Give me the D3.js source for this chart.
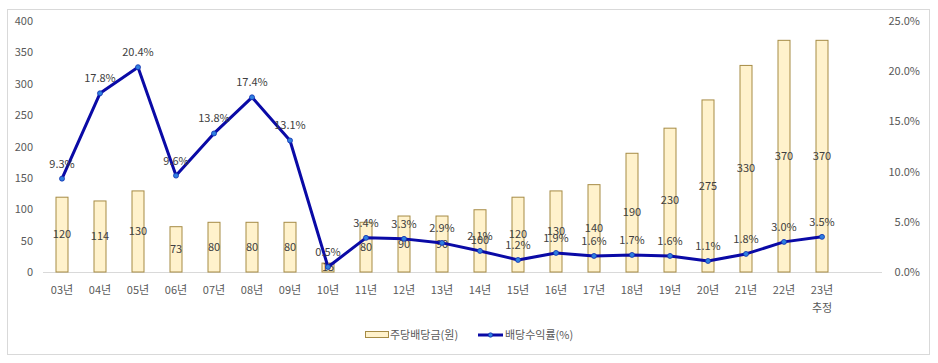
<!DOCTYPE html>
<html>
<head>
<meta charset="utf-8">
<script src="https://cdn.jsdelivr.net/npm/d3@7/dist/d3.min.js"></script>
<style>
  html, body { margin: 0; padding: 0; background: #fff; }
  svg { display: block; }
  text { font-family: "Noto Sans CJK KR", "Noto Sans", sans-serif; }
</style>
</head>
<body>
<svg id="chart" width="938" height="363"></svg>
<script>
const categories = ["03년","04년","05년","06년","07년","08년","09년","10년","11년","12년","13년","14년","15년","16년","17년","18년","19년","20년","21년","22년","23년"];
const subLabels = {"23년": "추정"};
const dividends = [120,114,130,73,80,80,80,15,80,90,90,100,120,130,140,190,230,275,330,370,370];
const yields = [9.3,17.8,20.4,9.6,13.8,17.4,13.1,0.5,3.4,3.3,2.9,2.1,1.2,1.9,1.6,1.7,1.6,1.1,1.8,3.0,3.5];
const leftTicks = [0,50,100,150,200,250,300,350,400];
const rightTicks = [0,5,10,15,20,25];
const seriesNames = ["주당배당금(원)", "배당수익률(%)"];

(function () {
const svg = d3.select("#chart");
const textColor = "#595959";
const labelColor = "#404040";
const barFill = "#FFF2CC";
const barStroke = "#A68B45";
const lineColor = "#0A0AA6";

svg.append("rect").attr("x", 7.5).attr("y", 9.5).attr("width", 922).attr("height", 345)
  .attr("fill", "#fff").attr("stroke", "#D9D9D9");

const plotLeft = 43, plotRight = 882, plotTop = 21, plotBottom = 272;
const bandW = 38;
const x = d3.scaleBand().domain(categories).range([plotLeft, plotLeft + bandW * categories.length]).paddingInner(0).paddingOuter(0);
const yL = d3.scaleLinear().domain([0, 400]).range([plotBottom, plotTop]);
const yR = d3.scaleLinear().domain([0, 25]).range([plotBottom, plotTop]);
const cx = (i) => x(categories[i]) + x.bandwidth() / 2;

svg.append("line").attr("x1", plotLeft).attr("x2", plotRight).attr("y1", yL(0) + 0.5).attr("y2", yL(0) + 0.5)
  .attr("stroke", "#D9D9D9");

const gL = svg.append("g").attr("transform", `translate(33,0)`)
  .call(d3.axisLeft(yL).tickValues(leftTicks).tickSize(0).tickPadding(0));
gL.select(".domain").remove();
gL.selectAll("text").attr("fill", textColor).style("font-size", "11px");

const gR = svg.append("g").attr("transform", `translate(920,0)`)
  .call(d3.axisLeft(yR).tickValues(rightTicks).tickSize(0).tickPadding(0).tickFormat(d => d.toFixed(1) + "%"));
gR.select(".domain").remove();
gR.selectAll("text").attr("fill", textColor).style("font-size", "11px");

const gX = svg.append("g").attr("transform", `translate(0,${plotBottom})`)
  .call(d3.axisBottom(x).tickSize(0).tickPadding(14));
gX.select(".domain").remove();
gX.selectAll("text").attr("fill", textColor).style("font-size", "11px");
gX.selectAll(".tick").each(function(d) {
  if (subLabels[d]) {
    d3.select(this).append("text").attr("y", 32).attr("dy", "0.71em")
      .attr("text-anchor", "middle").attr("fill", textColor).style("font-size", "11px").text(subLabels[d]);
  }
});

const barW = 13;
svg.append("g").selectAll("rect").data(dividends).join("rect")
  .attr("x", (d, i) => cx(i) - barW / 2 + 0.5)
  .attr("y", d => yL(d) + 0.5)
  .attr("width", barW - 1)
  .attr("height", d => yL(0) - yL(d) - 0.5)
  .attr("fill", barFill).attr("stroke", barStroke).attr("stroke-width", 1);

svg.append("g").selectAll("text").data(dividends).join("text")
  .attr("x", (d, i) => cx(i))
  .attr("y", d => (yL(d) + yL(0)) / 2)
  .attr("dy", "0.35em")
  .attr("text-anchor", "middle").attr("fill", labelColor).style("font-size", "11px")
  .text(d => d);

const line = d3.line().x((d, i) => cx(i)).y(d => yR(d));
svg.append("path").datum(yields).attr("d", line).attr("fill", "none")
  .attr("stroke", lineColor).attr("stroke-width", 3).attr("stroke-linejoin", "round");

svg.append("g").selectAll("circle").data(yields).join("circle")
  .attr("cx", (d, i) => cx(i))
  .attr("cy", d => yR(d)).attr("r", 2.5)
  .attr("fill", "#2F7FE0").attr("stroke", "#1030B0").attr("stroke-width", 0.8);

svg.append("g").selectAll("text").data(yields).join("text")
  .attr("x", (d, i) => cx(i))
  .attr("y", d => yR(d) - 11)
  .attr("text-anchor", "middle").attr("fill", labelColor).style("font-size", "11px")
  .text(d => d.toFixed(1) + "%");

const lg = svg.append("g");
lg.append("rect").attr("x", 365.5).attr("y", 331.5).attr("width", 23).attr("height", 6)
  .attr("fill", barFill).attr("stroke", barStroke);
lg.append("text").attr("x", 390).attr("y", 335).attr("dy", "0.35em").attr("fill", textColor)
  .style("font-size", "11px").text(seriesNames[0]);
lg.append("line").attr("x1", 478).attr("x2", 503).attr("y1", 335).attr("y2", 335)
  .attr("stroke", lineColor).attr("stroke-width", 3);
lg.append("circle").attr("cx", 490.5).attr("cy", 335).attr("r", 2.2)
  .attr("fill", "#2F7FE0").attr("stroke", "#1030B0").attr("stroke-width", 0.8);
lg.append("text").attr("x", 505).attr("y", 335).attr("dy", "0.35em").attr("fill", textColor)
  .style("font-size", "11px").text(seriesNames[1]);
})();
</script>
</body>
</html>
